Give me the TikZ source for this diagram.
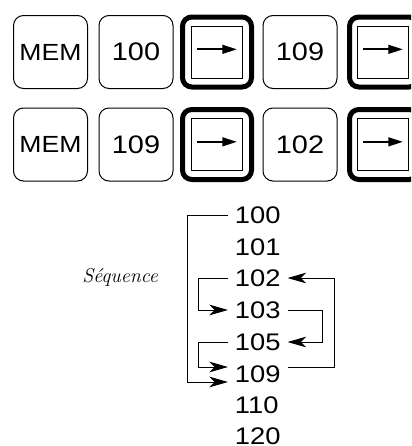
\documentclass[tikz,border=0pt]{standalone}
\usepackage{fontspec}
\newfontfamily\keyfont[FakeStretch=1.14]{Liberation Sans}
\usetikzlibrary{arrows.meta}

\begin{document}
\begin{tikzpicture}[x=0.75pt, y=-0.75pt,
    every node/.style={font=\keyfont\fontsize{19}{23}\selectfont},
    membox/.style={draw, line width=0.75pt, rounded corners=7.5pt, minimum width=55.5pt, minimum height=54.75pt},
    keybox/.style={draw, line width=3.75pt, rounded corners=7pt, minimum width=51.75pt, minimum height=52.5pt},
    keyface/.style={draw, line width=0.75pt, minimum width=38.25pt, minimum height=39pt, inner sep=0pt},
    keyarrow/.style={line width=1.7pt, -{Triangle[length=11pt,width=6.5pt]}},
    seq/.style={font=\keyfont\fontsize{18}{22}\selectfont, anchor=west, inner xsep=5pt, inner ysep=0pt},
    link/.style={line width=0.75pt},
    linkarrow/.style={link, -{Stealth[length=14pt,width=8pt,inset=4pt]}}]
	\clip (0,0) rectangle (411,446);
	
	% first line of keys
	\node[membox, font=\keyfont\fontsize{17.5}{21}\selectfont] (m1) at (50.5,52) {MEM};
	\node[membox] (a1) at (136,52) {100};
	\node[keybox] (k1) at (217,52) {};
	\node[keyface] (f1) at (217,52) {};
	\node[membox] (b1) at (300,52) {109};
	\node[keybox] (k2) at (384,52) {};
	\node[keyface] (f2) at (383,52) {};
	
	% second line of keys
	\node[membox, font=\keyfont\fontsize{17.5}{21}\selectfont] (m2) at (50.5,144.5) {MEM};
	\node[membox] (a2) at (136,144.5) {109};
	\node[keybox] (k3) at (217,144.5) {};
	\node[keyface] (f3) at (217,144.5) {};
	\node[membox] (b2) at (300,144.5) {102};
	\node[keybox] (k4) at (384,144.5) {};
	\node[keyface] (f4) at (383,144.5) {};
	
	\foreach \f in {f1,f2,f3,f4}
		\draw[keyarrow] ([xshift=4.5pt,yshift=2pt]\f.west) -- ([xshift=-4.5pt,yshift=2pt]\f.east);
	
	% sequence
	\node[font=\rmfamily\itshape\fontsize{15}{18}\selectfont] (label) at (120,277) {Séquence};
	
	\node[seq] (n100) at (228,215) {100};
	\node[seq] (n101) at (228,247) {101};
	\node[seq] (n102) at (228,278) {102};
	\node[seq] (n103) at (228,310) {103};
	\node[seq] (n105) at (228,342) {105};
	\node[seq] (n109) at (228,374) {109};
	\node[seq] (n110) at (228,405) {110};
	\node[seq] (n120) at (228,436) {120};
	
	\draw[linkarrow] (n100.west) -- ++(-41,0) |- ([yshift=-6pt]n109.west);
	\draw[linkarrow] (n102.west) -- ++(-30,0) |- (n103.west);
	\draw[linkarrow] (n105.west) -- ++(-30,0) |- ([yshift=5.25pt]n109.west);
	\draw[linkarrow] ([yshift=5.25pt]n109.east) -- ++(47,0) |- (n102.east);
	\draw[linkarrow] (n103.east) -- ++(35,0) |- (n105.east);
\end{tikzpicture}
\end{document}
